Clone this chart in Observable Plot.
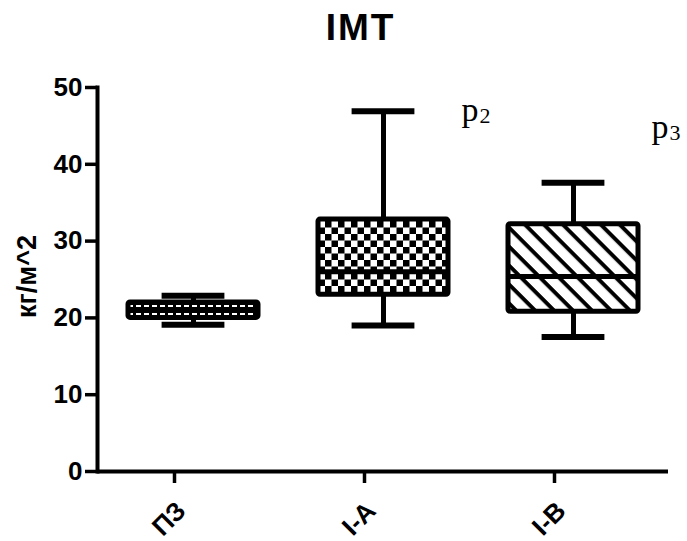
<!DOCTYPE html>
<html><head><meta charset="utf-8">
<script src="https://cdn.jsdelivr.net/npm/d3@7"></script>
<script src="https://cdn.jsdelivr.net/npm/@observablehq/plot@0.6"></script>
<style>
body{margin:0;background:#fff;}
#wrap{position:relative;width:687px;height:541px;overflow:hidden;}
#title{position:absolute;top:9px;left:17px;width:687px;text-align:center;font:bold 37px 'Liberation Sans',Arial,sans-serif;line-height:37px;letter-spacing:2px;z-index:2;}
#chart{position:absolute;top:0;left:0;}
</style></head><body>
<div id="wrap"><div id="title">IMT</div><div id="chart"></div></div>
<script>
// ---- data ----
const categories = ["ПЗ", "I-A", "I-B"];
const whiskerLow = [19.1, 19.0, 17.5];
const quartile1 = [20.0, 23.0, 20.8];
const medians = [21.0, 26.0, 25.4];
const quartile3 = [22.0, 32.8, 32.2];
const whiskerHigh = [22.9, 46.9, 37.6];
const fillPatterns = ["url(#dash)", "url(#check)", "url(#hatch)"];
const yTicks = [0, 10, 20, 30, 40, 50];
const yLabel = "кг/м^2";
const noteGroups = ["I-A", "I-B"];
const noteY = [45.6, 43.4];
const noteSub = ["2", "3"];

const rows = categories.map((c, i) => ({
  c, lo: whiskerLow[i], q1: quartile1[i], med: medians[i], q3: quartile3[i], hi: whiskerHigh[i], fill: fillPatterns[i]
}));
const notes = noteGroups.map((g, i) => ({g, y: noteY[i], p: "p", sub: noteSub[i]}));

function patternDefs() {
  const g = document.createElementNS("http://www.w3.org/2000/svg", "g");
  g.innerHTML = `<defs>
    <pattern id="dash" patternUnits="userSpaceOnUse" width="8" height="8">
      <rect width="8" height="8" fill="black"/>
      <rect x="0" y="1" width="5" height="2" fill="white"/>
      <rect x="4" y="5" width="4" height="2" fill="white"/>
      <rect x="0" y="5" width="1" height="2" fill="white"/>
    </pattern>
    <pattern id="check" patternUnits="userSpaceOnUse" width="13" height="13">
      <rect width="13" height="13" fill="white"/>
      <rect x="0" y="0" width="6.5" height="6.5" fill="black"/>
      <rect x="6.5" y="6.5" width="6.5" height="6.5" fill="black"/>
    </pattern>
    <pattern id="hatch" patternUnits="userSpaceOnUse" width="13.4" height="13.4" patternTransform="rotate(45)">
      <rect width="13.4" height="13.4" fill="white"/>
      <rect x="0" y="0" width="13.4" height="4" fill="black"/>
    </pattern>
  </defs>`;
  return g;
}

const font = "'Liberation Sans', Arial, sans-serif";
const serif = "'Liberation Serif', 'Times New Roman', serif";
const chart = Plot.plot({
  width: 687, height: 541,
  marginLeft: 97, marginRight: 19, marginTop: 87, marginBottom: 70,
  style: {fontFamily: font, color: "#000", background: "transparent", overflow: "visible"},
  x: {domain: categories, padding: 0},
  y: {domain: [0, 50]},
  color: {type: "identity"},
  marks: [
    patternDefs,
    Plot.ruleX(rows, {x: "c", y1: "lo", y2: "hi", strokeWidth: 5}),
    Plot.tickY(rows, {x: "c", y: "lo", strokeWidth: 6, insetLeft: 63.6, insetRight: 63.6}),
    Plot.tickY(rows, {x: "c", y: "hi", strokeWidth: 6, insetLeft: 63.6, insetRight: 63.6}),
    Plot.barY(rows, {x: "c", y1: "q1", y2: "q3", fill: "fill", stroke: "black", strokeWidth: 5, insetLeft: 30, insetRight: 30, rx: 2}),
    Plot.tickY(rows, {x: "c", y: "med", strokeWidth: 5, insetLeft: 30, insetRight: 30}),
    Plot.axisY({ticks: yTicks, tickSize: 12, tickPadding: 3, strokeWidth: 3.5, fontSize: 26, fontWeight: "bold", label: null}),
    Plot.axisX({tickSize: 12, strokeWidth: 3.5, text: null, label: null, dx: -19}),
    Plot.axisX({tickSize: 12, tickPadding: 23, tickRotate: -45, stroke: null, fontSize: 26, fontWeight: "bold", label: null, dx: -12}),
    Plot.ruleY([0], {strokeWidth: 4}),
    Plot.frame({anchor: "left", strokeWidth: 4}),
    Plot.text([yLabel], {frameAnchor: "left", textAnchor: "middle", rotate: -90, dx: -70, dy: -3, fontSize: 27, fontWeight: "bold"}),
    Plot.text(notes, {x: "g", y: "y", text: "p", dx: 78, textAnchor: "start", lineAnchor: "bottom", fontFamily: serif, fontSize: 34}),
    Plot.text(notes, {x: "g", y: "y", text: "sub", dx: 96, dy: 2, textAnchor: "start", lineAnchor: "bottom", fontFamily: serif, fontSize: 22})
  ]
});
document.getElementById("chart").appendChild(chart);
</script>
</body></html>
